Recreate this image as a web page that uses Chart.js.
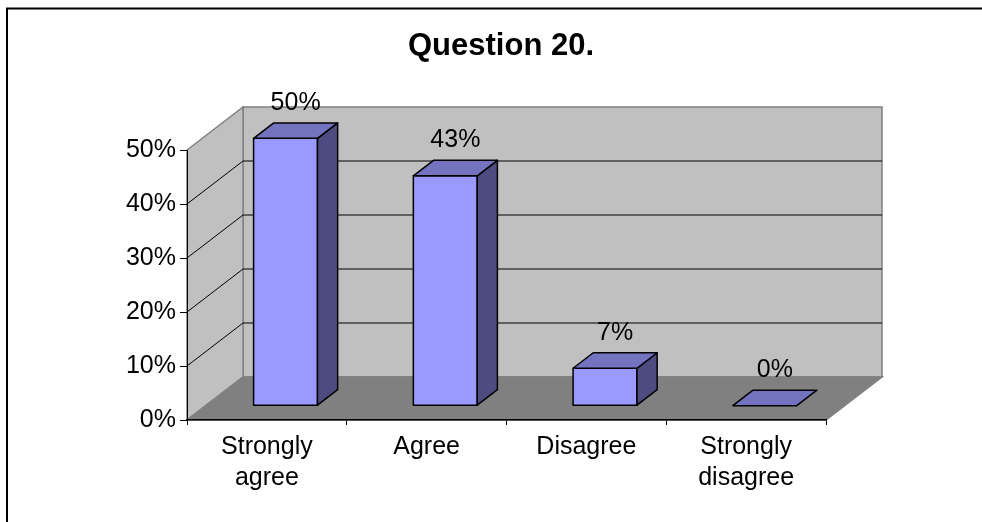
<!DOCTYPE html>
<html>
<head>
<meta charset="utf-8">
<title>Question 20.</title>
<script src="https://cdn.jsdelivr.net/npm/chart.js@4.4.1/dist/chart.umd.min.js"></script>
<style>
html, body { margin: 0; padding: 0; background: #fff; overflow: hidden; }
#wrap { position: relative; width: 982px; height: 522px; }
</style>
</head>
<body>
<div id="wrap"><canvas id="q20Chart"></canvas></div>
<script>
const categories = [['Strongly', 'agree'], 'Agree', 'Disagree', ['Strongly', 'disagree']];
const percentValues = [50, 43, 7, 0];
const yTicks = [0, 10, 20, 30, 40, 50];

const FONT = '"Liberation Sans", Arial, sans-serif';
const DEPTH_X = 56, DEPTH_Y = 43; // depth of the 3d box

// walls + floor, drawn under the axes
const wallsPlugin = {
    id: 'walls',
    beforeDraw(chart) {
        const {ctx, chartArea: a, scales} = chart;
        const L = a.left, R = a.right, T = a.top, B = a.bottom;
        ctx.save();
        ctx.lineWidth = 1.5;
        ctx.strokeStyle = '#808080';
        ctx.fillStyle = '#c0c0c0';
        ctx.beginPath();
        ctx.rect(L + DEPTH_X, T - DEPTH_Y, R - L, B - T);
        ctx.fill();
        ctx.stroke();
        ctx.beginPath();
        ctx.moveTo(L, B);
        ctx.lineTo(L + DEPTH_X, B - DEPTH_Y);
        ctx.lineTo(L + DEPTH_X, T - DEPTH_Y);
        ctx.lineTo(L, T);
        ctx.closePath();
        ctx.fill();
        ctx.stroke();
        ctx.fillStyle = '#808080';
        ctx.beginPath();
        ctx.moveTo(L, B);
        ctx.lineTo(R, B);
        ctx.lineTo(R + DEPTH_X, B - DEPTH_Y);
        ctx.lineTo(L + DEPTH_X, B - DEPTH_Y);
        ctx.closePath();
        ctx.fill();
        ctx.stroke();
        // grid lines on left + back wall
        ctx.strokeStyle = '#000';
        ctx.lineWidth = 1;
        yTicks.forEach((v, i) => {
            if (i === 0 || i === yTicks.length - 1) return;
            const py = scales.y.getPixelForValue(v);
            ctx.beginPath();
            ctx.moveTo(L, py);
            ctx.lineTo(L + DEPTH_X, py - DEPTH_Y);
            ctx.lineTo(R + DEPTH_X, py - DEPTH_Y);
            ctx.stroke();
        });
        ctx.restore();
    },
    afterDraw(chart) {
        // outer frame, runs off the right and bottom edges
        const ctx = chart.ctx;
        ctx.save();
        ctx.lineWidth = 2;
        ctx.strokeStyle = '#000';
        ctx.strokeRect(7, 8.5, 1100, 700);
        ctx.restore();
    }
};

// 3d bars from the library's bar elements
const bars3dPlugin = {
    id: 'bars3d',
    afterDatasetsDraw(chart) {
        const ctx = chart.ctx;
        const meta = chart.getDatasetMeta(0);
        const ox = DEPTH_X / 3, oy = DEPTH_Y / 3;
        const bx = DEPTH_X * 0.36, by = DEPTH_Y * 0.36;
        ctx.save();
        ctx.lineWidth = 1.5;
        ctx.strokeStyle = '#000';
        ctx.lineJoin = 'round';
        meta.data.forEach((bar, i) => {
            const p = bar.getProps(['x', 'y', 'base', 'width'], true);
            const h = (p.base - p.y) * 0.99;
            const left = p.x - p.width / 2 + ox, right = p.x + p.width / 2 + ox;
            const bottom = p.base - oy, top = bottom - h;
            if (h > 0) {
                ctx.fillStyle = '#9999ff';
                ctx.beginPath();
                ctx.rect(left, top, p.width, h);
                ctx.fill();
                ctx.stroke();
                ctx.fillStyle = '#4c4c80';
                ctx.beginPath();
                ctx.moveTo(right, top);
                ctx.lineTo(right + bx, top - by);
                ctx.lineTo(right + bx, bottom - by);
                ctx.lineTo(right, bottom);
                ctx.closePath();
                ctx.fill();
                ctx.stroke();
            }
            ctx.fillStyle = '#7373bf';
            ctx.beginPath();
            ctx.moveTo(left, top);
            ctx.lineTo(left + bx, top - by);
            ctx.lineTo(right + bx, top - by);
            ctx.lineTo(right, top);
            ctx.closePath();
            ctx.fill();
            ctx.stroke();
            ctx.fillStyle = '#000';
            ctx.font = '25px ' + FONT;
            ctx.textAlign = 'center';
            ctx.textBaseline = 'alphabetic';
            ctx.fillText(percentValues[i] + '%', p.x + ox + bx / 2, top - by - 13);
        });
        ctx.restore();
    }
};

Chart.defaults.font.family = FONT;
Chart.defaults.color = '#000';

const ctx = document.getElementById('q20Chart').getContext('2d');
window.q20Chart = new Chart(ctx, {
    type: 'bar',
    data: {
        labels: categories,
        datasets: [{
            label: 'Question 20.',
            data: percentValues,
            backgroundColor: 'rgba(0,0,0,0)',
            borderWidth: 0,
            categoryPercentage: 1,
            barPercentage: 0.4
        }]
    },
    options: {
        responsive: true,
        maintainAspectRatio: false,
        animation: false,
        // left padding keeps the title centred on the whole chart (~x 501)
        layout: { padding: { left: 20, right: 0, top: 0, bottom: 0 } },
        plugins: {
            legend: { display: false },
            tooltip: { enabled: false },
            title: {
                display: true,
                text: 'Question 20.',
                color: '#000',
                font: { size: 31, weight: 'bold' },
                padding: { top: 27.4, bottom: 85.4 }
            }
        },
        scales: {
            x: {
                afterFit: s => { s.height = 102; },
                grid: { offset: true, drawOnChartArea: false, drawTicks: true, tickLength: 5, color: '#000' },
                border: { display: true, color: '#000', width: 1.5 },
                ticks: { font: { size: 25, lineHeight: 1.24 }, padding: 7, maxRotation: 0, autoSkip: false, color: '#000' }
            },
            y: {
                min: 0,
                max: 50,
                afterFit: s => { s.width = 167; },
                grid: { drawOnChartArea: false, drawTicks: true, tickLength: 7, color: '#000' },
                border: { display: true, color: '#000', width: 1 },
                ticks: { stepSize: 10, font: { size: 25 }, padding: 4, color: '#000', callback: v => v + '%' }
            },
            // empty spacer on the right, leaves room for the 3d depth
            spacer: {
                type: 'linear',
                position: 'right',
                min: 0,
                max: 1,
                afterFit: s => { s.width = 156; },
                grid: { display: false },
                border: { display: false },
                ticks: { display: false }
            }
        }
    },
    plugins: [wallsPlugin, bars3dPlugin]
});
</script>
</body>
</html>
